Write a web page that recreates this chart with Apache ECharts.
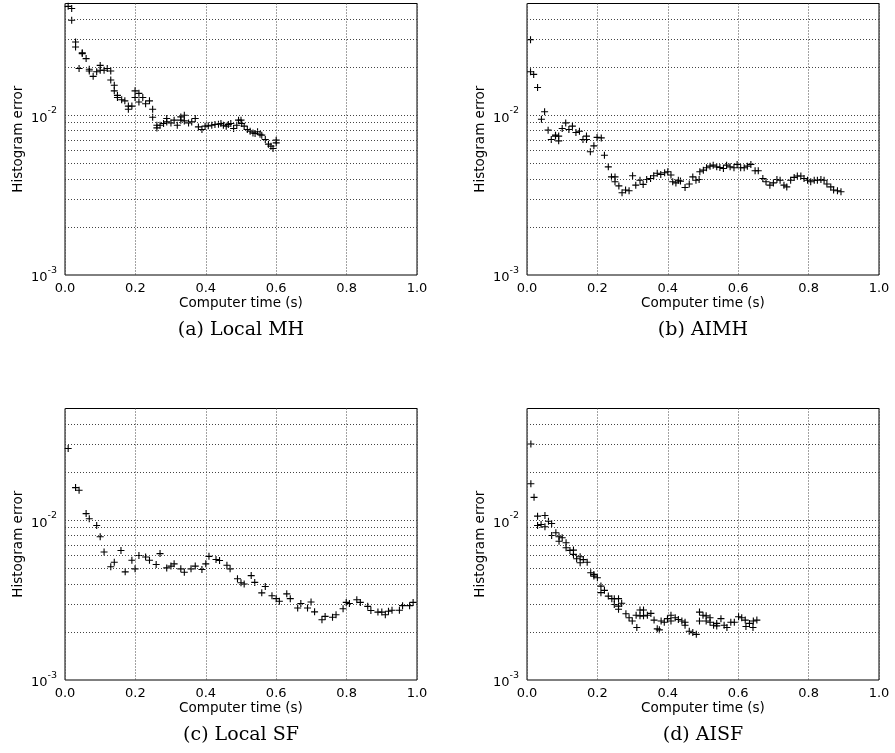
<!DOCTYPE html>
<html>
<head>
<meta charset="utf-8">
<script src="https://cdn.jsdelivr.net/npm/echarts@6/dist/echarts.min.js"></script>
<style>html,body{margin:0;padding:0;background:#fff}#c{width:895px;height:753px}</style>
</head>
<body>
<div id="c"></div>
<script>
// ---- data ----
const localMH = [
[0.009,0.0480],[0.019,0.0465],[0.019,0.0393],[0.030,0.0287],[0.030,0.0267],[0.049,0.0246],[0.049,0.0243],
[0.060,0.0226],[0.040,0.0196],[0.069,0.0194],[0.069,0.0189],[0.080,0.0175],[0.090,0.0187],[0.100,0.0205],
[0.100,0.0191],[0.111,0.0191],[0.120,0.0196],[0.130,0.0189],[0.130,0.0166],[0.140,0.0154],[0.140,0.0142],
[0.149,0.0133],[0.149,0.0129],[0.161,0.0125],[0.170,0.0123],[0.180,0.0114],[0.180,0.0109],[0.190,0.0114],
[0.199,0.0142],[0.199,0.0129],[0.210,0.0137],[0.210,0.0121],[0.221,0.0129],[0.229,0.0118],[0.240,0.0123],
[0.249,0.0109],[0.249,0.0097],[0.261,0.00866],[0.261,0.00833],[0.270,0.00866],[0.280,0.00888],[0.289,0.00953],
[0.289,0.00908],[0.301,0.00895],[0.310,0.00931],[0.319,0.00866],[0.329,0.00976],[0.329,0.00931],[0.339,0.0100],
[0.339,0.00921],[0.351,0.00895],[0.360,0.00908],[0.370,0.00953],[0.379,0.00845],[0.389,0.00814],[0.398,0.00854],
[0.407,0.00858],[0.417,0.00866],[0.426,0.00875],[0.436,0.00879],[0.443,0.00888],[0.450,0.00866],[0.458,0.00854],
[0.464,0.00875],[0.471,0.00888],[0.479,0.00826],[0.488,0.00866],[0.493,0.00931],[0.500,0.00931],[0.502,0.00888],
[0.509,0.00854],[0.518,0.00814],[0.526,0.00794],[0.534,0.00775],[0.540,0.00768],[0.547,0.00787],[0.554,0.00760],
[0.559,0.00750],[0.569,0.00705],[0.578,0.00659],[0.585,0.00640],[0.591,0.00619],[0.600,0.00698],[0.600,0.00671]
];
const aimh = [
[0.010,0.0297],[0.010,0.0187],[0.019,0.0180],[0.030,0.0149],[0.041,0.00944],[0.050,0.0105],[0.060,0.00806],
[0.069,0.00705],[0.081,0.00750],[0.081,0.00740],[0.090,0.00740],[0.090,0.00691],[0.100,0.00826],[0.110,0.00895],
[0.119,0.00814],[0.129,0.00854],[0.139,0.00779],[0.149,0.00794],[0.159,0.00705],[0.169,0.00740],[0.169,0.00705],
[0.180,0.00590],[0.190,0.00643],[0.199,0.00726],[0.211,0.00721],[0.220,0.00562],[0.231,0.00475],[0.240,0.00411],
[0.250,0.00411],[0.250,0.00383],[0.261,0.00361],[0.270,0.00327],[0.280,0.00340],[0.290,0.00337],[0.300,0.00418],
[0.309,0.00365],[0.321,0.00392],[0.330,0.00369],[0.340,0.00396],[0.351,0.00402],[0.360,0.00418],[0.370,0.00433],
[0.380,0.00426],[0.391,0.00436],[0.400,0.00443],[0.409,0.00422],[0.414,0.00383],[0.423,0.00377],[0.430,0.00392],
[0.436,0.00387],[0.449,0.00353],[0.461,0.00371],[0.471,0.00411],[0.480,0.00392],[0.489,0.00396],[0.491,0.00443],
[0.501,0.00453],[0.510,0.00469],[0.520,0.00480],[0.529,0.00487],[0.539,0.00475],[0.548,0.00471],[0.558,0.00464],
[0.567,0.00487],[0.577,0.00475],[0.588,0.00469],[0.597,0.00492],[0.607,0.00469],[0.617,0.00469],[0.626,0.00480],
[0.636,0.00492],[0.648,0.00449],[0.657,0.00449],[0.670,0.00402],[0.679,0.00383],[0.690,0.00365],[0.700,0.00377],
[0.710,0.00396],[0.719,0.00392],[0.730,0.00365],[0.738,0.00356],[0.749,0.00392],[0.759,0.00408],[0.768,0.00416],
[0.778,0.00416],[0.787,0.00402],[0.797,0.00392],[0.806,0.00383],[0.816,0.00392],[0.825,0.00392],[0.835,0.00396],
[0.844,0.00392],[0.852,0.00371],[0.863,0.00356],[0.871,0.00340],[0.882,0.00337],[0.892,0.00332]
];
const localSF = [
[0.009,0.0281],[0.030,0.0160],[0.040,0.0154],[0.060,0.0110],[0.069,0.0102],[0.090,0.00927],[0.100,0.00787],
[0.111,0.00633],[0.130,0.00511],[0.140,0.00546],[0.159,0.00646],[0.171,0.00475],[0.190,0.00561],[0.199,0.00496],
[0.210,0.00601],[0.229,0.00589],[0.240,0.00561],[0.259,0.00528],[0.270,0.00618],[0.289,0.00503],[0.301,0.00516],
[0.310,0.00533],[0.329,0.00496],[0.339,0.00472],[0.358,0.00496],[0.370,0.00516],[0.389,0.00491],[0.400,0.00533],
[0.409,0.00594],[0.429,0.00568],[0.439,0.00559],[0.460,0.00522],[0.469,0.00496],[0.490,0.00430],[0.500,0.00406],
[0.509,0.00399],[0.529,0.00450],[0.539,0.00408],[0.559,0.00351],[0.569,0.00385],[0.588,0.00337],[0.600,0.00323],
[0.609,0.00311],[0.630,0.00346],[0.640,0.00323],[0.661,0.00282],[0.670,0.00301],[0.689,0.00282],[0.699,0.00308],
[0.709,0.00267],[0.730,0.00238],[0.739,0.00250],[0.760,0.00247],[0.770,0.00256],[0.790,0.00279],[0.799,0.00306],
[0.808,0.00301],[0.829,0.00318],[0.839,0.00306],[0.860,0.00289],[0.869,0.00272],[0.889,0.00266],[0.900,0.00266],
[0.910,0.00256],[0.919,0.00269],[0.929,0.00273],[0.950,0.00273],[0.959,0.00292],[0.979,0.00292],[0.989,0.00306]
];
const aisf = [
[0.011,0.0300],[0.011,0.0169],[0.020,0.0139],[0.030,0.0106],[0.030,0.00927],[0.040,0.00940],[0.051,0.0107],
[0.051,0.00909],[0.061,0.00985],[0.070,0.00953],[0.070,0.00802],[0.082,0.00834],[0.091,0.00787],[0.091,0.00739],
[0.100,0.00776],[0.111,0.00722],[0.111,0.00672],[0.122,0.00647],[0.132,0.00650],[0.132,0.00611],[0.141,0.00574],
[0.151,0.00590],[0.151,0.00542],[0.160,0.00567],[0.171,0.00546],[0.181,0.00469],[0.190,0.00458],[0.190,0.00447],
[0.200,0.00436],[0.210,0.00387],[0.210,0.00352],[0.220,0.00364],[0.231,0.00335],[0.241,0.00323],[0.248,0.00297],
[0.248,0.00323],[0.260,0.00323],[0.260,0.00290],[0.260,0.00277],[0.269,0.00302],[0.281,0.00260],[0.290,0.00245],
[0.299,0.00234],[0.310,0.00254],[0.312,0.00213],[0.321,0.00274],[0.321,0.00252],[0.331,0.00274],[0.331,0.00252],
[0.342,0.00254],[0.352,0.00261],[0.361,0.00237],[0.370,0.00209],[0.376,0.00206],[0.381,0.00234],[0.390,0.00230],
[0.399,0.00242],[0.409,0.00254],[0.409,0.00234],[0.421,0.00245],[0.430,0.00239],[0.440,0.00234],[0.449,0.00230],
[0.449,0.00220],[0.461,0.00202],[0.471,0.00198],[0.481,0.00193],[0.490,0.00266],[0.490,0.00234],[0.500,0.00254],
[0.509,0.00252],[0.509,0.00234],[0.520,0.00230],[0.520,0.00245],[0.530,0.00220],[0.539,0.00226],[0.539,0.00218],
[0.551,0.00242],[0.560,0.00220],[0.568,0.00213],[0.579,0.00230],[0.589,0.00230],[0.601,0.00249],[0.610,0.00245],
[0.620,0.00237],[0.622,0.00216],[0.632,0.00226],[0.642,0.00213],[0.643,0.00234],[0.653,0.00237]
];
const seriesData = [localMH, aimh, localSF, aisf];
const captions = ['(a) Local MH', '(b) AIMH', '(c) Local SF', '(d) AISF'];
const xTicks = ['0.0','0.2','0.4','0.6','0.8','1.0'];
const yGridValues = [0.002,0.003,0.004,0.005,0.006,0.007,0.008,0.009,0.01,0.02,0.03,0.04];

// ---- layout ----
const grids = [
  {left: 65,  top: 3.5,   width: 352, height: 271.5},
  {left: 527, top: 3.5,   width: 352, height: 271.5},
  {left: 65,  top: 408.5, width: 352, height: 271.5},
  {left: 527, top: 408.5, width: 352, height: 271.5}
];
const font = 'DejaVu Sans';

const option = {
  animation: false,
  backgroundColor: '#fff',
  grid: grids.map(g => Object.assign({show: true, borderColor: '#000', borderWidth: 1, backgroundColor: 'transparent', containLabel: false}, g)),
  xAxis: grids.map((g, i) => ({
    type: 'value', gridIndex: i, min: 0, max: 1, interval: 0.2,
    name: 'Computer time (s)', nameLocation: 'middle', nameGap: 21,
    nameTextStyle: {fontFamily: font, fontSize: 13.5, color: '#000'},
    axisLine: {show: false}, axisTick: {show: false},
    axisLabel: {fontFamily: font, fontSize: 13, color: '#000', margin: 7,
      formatter: v => xTicks[Math.round(v / 0.2)]},
    splitLine: {show: true, lineStyle: {color: '#444', type: [1, 2], width: 1}}
  })),
  yAxis: grids.map((g, i) => ({
    type: 'log', gridIndex: i, logBase: 10, min: 0.001, max: 0.05,
    name: 'Histogram error', nameLocation: 'middle', nameGap: 40,
    nameTextStyle: {fontFamily: font, fontSize: 13.5, color: '#000'},
    axisLine: {show: false}, axisTick: {show: false}, splitLine: {show: false},
    axisLabel: {
      margin: 8, showMaxLabel: false,
      formatter: v => {
        const e = Math.log10(v);
        if (Math.abs(e - Math.round(e)) > 1e-6) return '';
        return '{b|10}{s|' + Math.round(e) + '}';
      },
      rich: {
        b: {fontFamily: font, fontSize: 13, color: '#000', padding: [6, 0, 0, 0]},
        s: {fontFamily: font, fontSize: 9.5, color: '#000', verticalAlign: 'top', padding: [0, 0, 6, 0]}
      }
    }
  })),
  series: seriesData.map((d, i) => ({
    type: 'scatter', xAxisIndex: i, yAxisIndex: i, data: d,
    symbol: 'path://M5,0L5,10M0,5L10,5', symbolSize: 7,
    itemStyle: {color: 'none', borderColor: '#000', borderWidth: 1.1, opacity: 1},
    silent: true,
    markLine: {
      silent: true, symbol: 'none', animation: false, precision: 10,
      label: {show: false},
      lineStyle: {color: '#444', type: [1, 2], width: 1},
      data: yGridValues.map(v => ({yAxis: v}))
    },
    z: 3
  })),
  graphic: grids.map((g, i) => ({
    type: 'text',
    x: g.left + g.width / 2,
    y: g.top + g.height + 55,
    style: {text: captions[i], fill: '#000', font: '19px "DejaVu Serif"', textAlign: 'center', textVerticalAlign: 'middle'}
  }))
};

const chart = echarts.init(document.getElementById('c'), null, {renderer: 'canvas'});
chart.setOption(option);
</script>
</body>
</html>
